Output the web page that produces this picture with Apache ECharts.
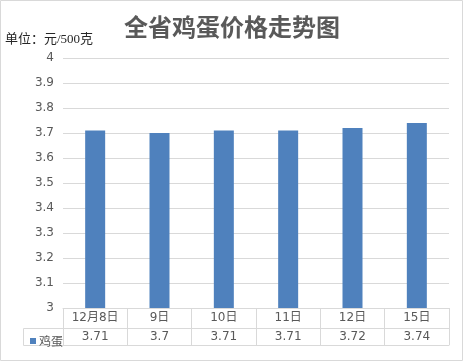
<!DOCTYPE html>
<html><head><meta charset="utf-8">
<script src="https://cdn.jsdelivr.net/npm/echarts@6/dist/echarts.min.js"></script>
<style>html,body{margin:0;padding:0;background:#fff}#c{width:464px;height:362px}</style>
</head><body><div id="c"></div>
<script>
const titleText = '全省鸡蛋价格走势图';
const unitText = '单位：元/500克';
const categories = ['12月8日', '9日', '10日', '11日', '12日', '15日'];
const seriesName = '鸡蛋';
const values = [3.71, 3.7, 3.71, 3.71, 3.72, 3.74];
const yMin = 3, yMax = 4, yStep = 0.1;

const chart = echarts.init(document.getElementById('c'), null, {renderer: 'canvas'});
const lineColor = '#d9d9d9';
const txt = '#595959';
const font = 'DejaVu Sans, "Noto Sans CJK SC", sans-serif';
chart.setOption({
  animation: false,
  title: {text: titleText, left: 'center', top: 10,
    textStyle: {fontSize: 24, fontWeight: 'bold', color: txt, fontFamily: '"Noto Sans CJK SC", sans-serif'}},
  legend: {data: [seriesName], left: 25, top: 330, itemWidth: 6, itemHeight: 6, itemGap: 2,
    icon: 'rect', textStyle: {color: txt, fontSize: 12, fontFamily: '"Noto Sans CJK SC", sans-serif', padding: [0,0,0,-2]}},
  grid: {left: 63, right: 15, top: 58, bottom: 54, containLabel: false},
  xAxis: [
    {type: 'category', data: categories, position: 'bottom',
      axisLine: {lineStyle: {color: lineColor}},
      axisTick: {show: true, length: 20, lineStyle: {color: lineColor}},
      axisLabel: {color: txt, fontSize: 12, margin: 4, fontFamily: font}},
    {type: 'category', data: values.map(v => String(v)), position: 'bottom', offset: 20,
      axisLine: {lineStyle: {color: lineColor}},
      axisTick: {show: true, length: 17, lineStyle: {color: lineColor}},
      axisLabel: {color: txt, fontSize: 12, margin: 3, fontFamily: font}},
    {type: 'category', data: categories, position: 'bottom', offset: 37,
      axisLine: {lineStyle: {color: lineColor}},
      axisTick: {show: false}, axisLabel: {show: false}}
  ],
  yAxis: {type: 'value', min: yMin, max: yMax, interval: yStep,
    axisLine: {show: false}, axisTick: {show: false},
    splitLine: {lineStyle: {color: lineColor}},
    axisLabel: {color: txt, fontSize: 12, margin: 9, fontFamily: font,
      formatter: v => String(Math.round(v * 10) / 10)}},
  series: [{name: seriesName, type: 'bar', data: values, barWidth: 20, xAxisIndex: 0,
    itemStyle: {color: '#4f81bd'}}],
  graphic: [
    {type: 'rect', shape: {x: 0.5, y: 0.5, width: 462, height: 360}, style: {fill: 'none', stroke: lineColor, lineWidth: 1}, silent: true},
    {type: 'text', left: 5, top: 33, style: {text: unitText, fill: '#262626', fontSize: 13, fontFamily: '"Liberation Serif", "Noto Sans CJK SC", serif'}},
    {type: 'line', shape: {x1: 23.5, y1: 328.5, x2: 63, y2: 328.5}, style: {stroke: lineColor}},
    {type: 'line', shape: {x1: 23.5, y1: 345.5, x2: 63, y2: 345.5}, style: {stroke: lineColor}},
    {type: 'line', shape: {x1: 23.5, y1: 328.5, x2: 23.5, y2: 345.5}, style: {stroke: lineColor}}
  ]
});
</script></body></html>
